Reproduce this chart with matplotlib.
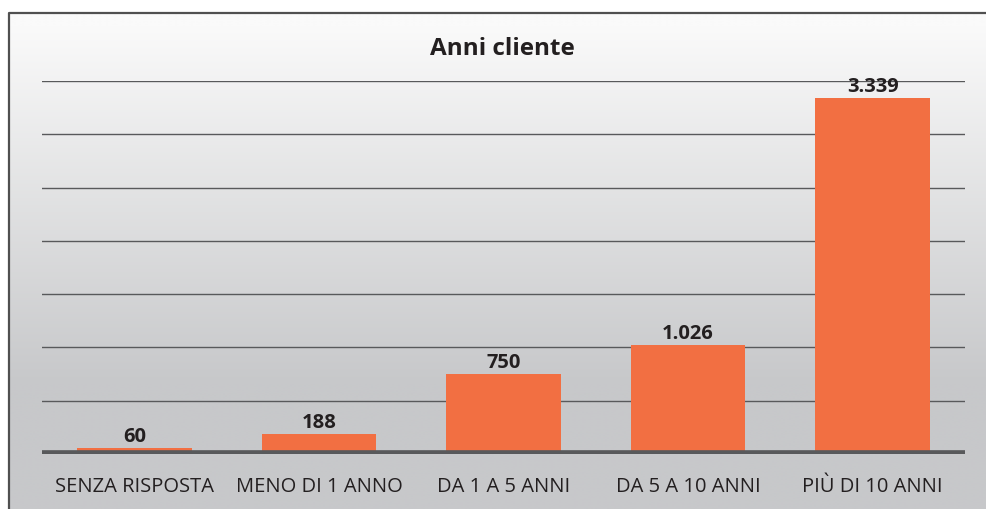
import matplotlib
matplotlib.use("Agg")
import matplotlib.pyplot as plt
import matplotlib.transforms as mtransforms
import numpy as np

plt.rcParams['font.family'] = ['Open Sans', 'DejaVu Sans']

categories = ["SENZA RISPOSTA", "MENO DI 1 ANNO", "DA 1 A 5 ANNI", "DA 5 A 10 ANNI", "PIÙ DI 10 ANNI"]
values = [60, 188, 750, 1026, 3339]
value_labels = ["60", "188", "750", "1.026", "3.339"]
grid_ticks = [500, 1000, 1500, 2000, 2500, 3000, 3500]
title = "Anni cliente"

W, H = 987, 509
fig = plt.figure(figsize=(W / 100, H / 100), dpi=100)
fig.patch.set_facecolor("white")

# background panel with vertical gradient, in pixel coords (y down)
bg = fig.add_axes([0, 0, 1, 1])
bg.set_xlim(0, W)
bg.set_ylim(H, 0)
bg.axis("off")
ys = np.arange(H)
top_c = np.array([250, 250, 250]) / 255
bot_c = np.array([199, 200, 202]) / 255
t = np.clip((ys - 13) / (380 - 13), 0, 1)
grad = top_c[None, :] * (1 - t[:, None]) + bot_c[None, :] * t[:, None]
img = np.repeat(grad[:, None, :], 2, axis=1)
bg.imshow(img, extent=(9, W + 5, H, 13), aspect="auto", interpolation="bilinear")
bg.plot([9, 9, W + 5], [H + 5, 13, 13], color="#505050", lw=1.6, solid_capstyle="butt")

# main chart area: zero line at y=454 px, 3500 at y=81 px, x from 42 to 965
ax = fig.add_axes([42 / W, (H - 454) / H, (965 - 42) / W, (454 - 81) / H])
ax.patch.set_alpha(0)
ax.set_xlim(-0.5, len(categories) - 0.5)
ax.set_ylim(0, 3500)
for s in ax.spines.values():
    s.set_visible(False)
ax.set_xticks([])
ax.set_yticks([])

for g in grid_ticks:
    ax.axhline(g, color="#58595b", lw=1.0, zorder=1)

x = np.arange(len(categories))
ax.bar(x, values, width=0.62, color="#f26f42", zorder=2)
ax.axhline(0, color="#58595b", lw=5.5, zorder=3)

for xi, v, lab in zip(x, values, value_labels):
    tr = mtransforms.offset_copy(ax.transData, fig=fig, x=0, y=6, units="dots")
    ax.text(xi, v, lab, transform=tr, ha="center", va="baseline",
            fontsize=14.5, fontweight="bold", color="#231f20", zorder=4, clip_on=False)

for xi, cat in zip(x, categories):
    tr = mtransforms.offset_copy(ax.transData, fig=fig, x=0, y=-38, units="dots")
    ax.text(xi, 0, cat, transform=tr, ha="center", va="baseline",
            fontsize=14.5, color="#231f20", clip_on=False)

fig.text(502 / W, (H - 55) / H, title, ha="center", va="baseline",
         fontsize=17.5, fontweight="bold", color="#231f20")

fig.savefig("out.png", dpi=100)
